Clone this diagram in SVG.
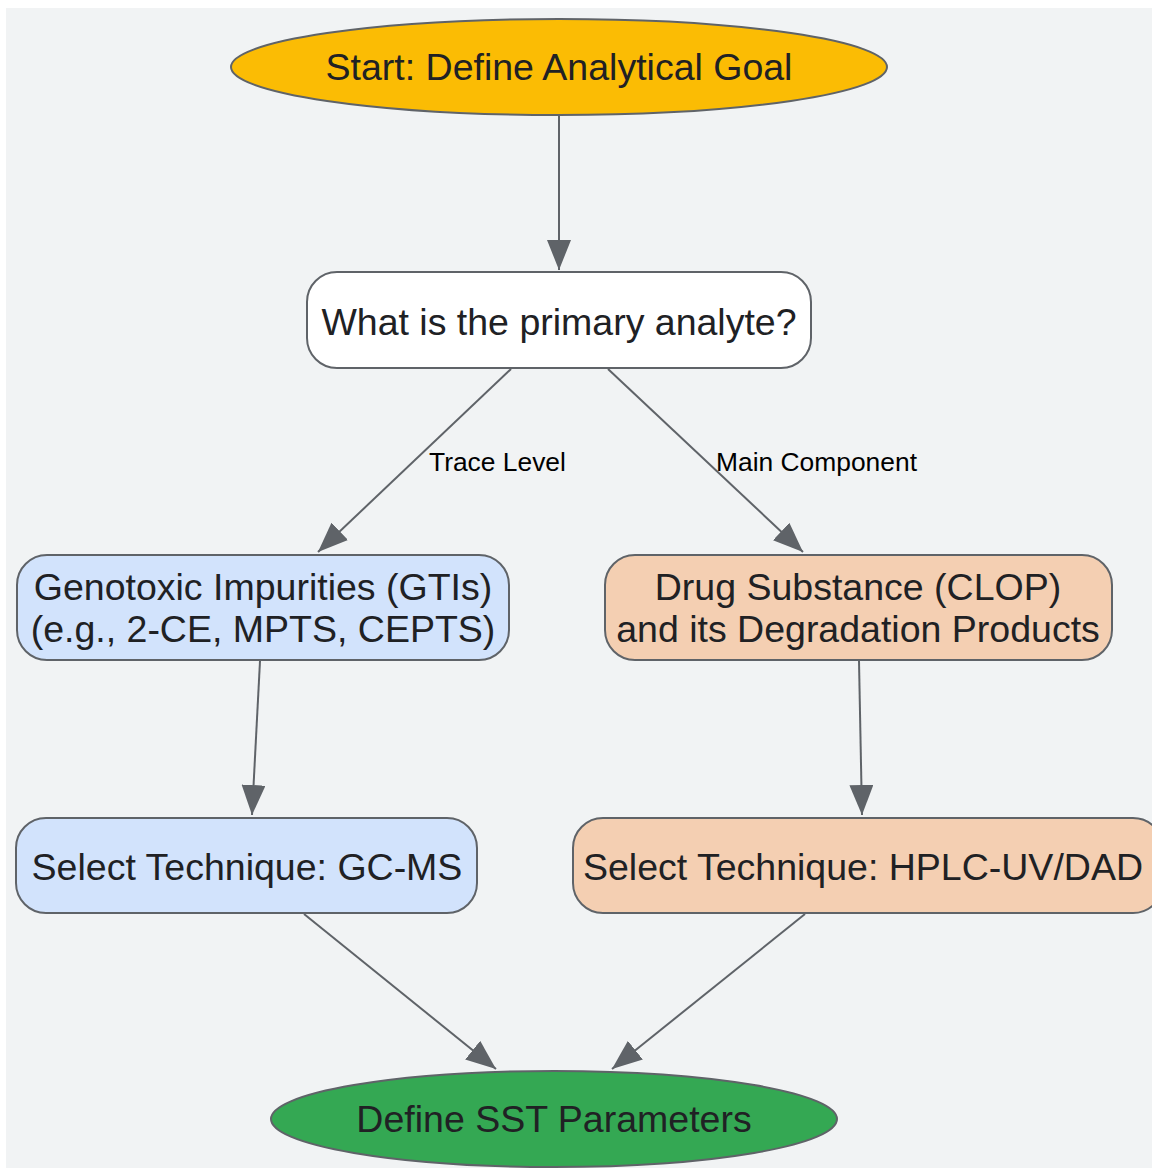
<svg xmlns="http://www.w3.org/2000/svg" width="1152" height="1170" viewBox="0 0 1152 1170">
<style>
.node{stroke:#5f6368;stroke-width:2}
.t{font-family:"Liberation Sans",Arial,sans-serif;font-size:37.5px;fill:#202124;text-anchor:middle}
.lbl{font-family:"Liberation Sans",Arial,sans-serif;font-size:26.4px;fill:#000}
.e{stroke:#5f6368;stroke-width:2;fill:none;marker-end:url(#arr)}
</style>
<defs>
<marker id="arr" markerUnits="userSpaceOnUse" markerWidth="30" markerHeight="24" refX="30" refY="12" orient="auto">
<path d="M0,0 L30,12 L0,24 z" fill="#5f6368"/>
</marker>
</defs>
<rect x="0" y="0" width="1152" height="1170" fill="#ffffff"/>
<rect x="6" y="8" width="1146" height="1160" fill="#f1f3f4"/>
<g id="edges">
<line class="e" x1="559" y1="115" x2="559" y2="270"/>
<line class="e" x1="511" y1="369" x2="318" y2="552"/>
<line class="e" x1="608" y1="369" x2="803" y2="552"/>
<line class="e" x1="260" y1="661" x2="252" y2="815"/>
<line class="e" x1="859" y1="661" x2="862" y2="815"/>
<line class="e" x1="304" y1="914" x2="496" y2="1069"/>
<line class="e" x1="805" y1="914" x2="612" y2="1069"/>
<text class="lbl" x="429" y="471">Trace Level</text>
<text class="lbl" x="716" y="471">Main Component</text>
</g>
<g id="start">
<ellipse class="node" cx="559" cy="67" rx="328" ry="48" fill="#fbbc04"/>
<text class="t" x="559" y="80">Start: Define Analytical Goal</text>
</g>
<g id="question">
<rect class="node" x="307" y="272" width="504" height="96" rx="30" fill="#ffffff"/>
<text class="t" x="559" y="335">What is the primary analyte?</text>
</g>
<g id="gti">
<rect class="node" x="17" y="555" width="492" height="105" rx="30" fill="#d2e3fc"/>
<text class="t" x="263" y="600">Genotoxic Impurities (GTIs)</text>
<text class="t" x="263" y="642">(e.g., 2-CE, MPTS, CEPTS)</text>
</g>
<g id="drug">
<rect class="node" x="605" y="555" width="507" height="105" rx="30" fill="#f4cfb2"/>
<text class="t" x="858" y="600">Drug Substance (CLOP)</text>
<text class="t" x="858" y="642">and its Degradation Products</text>
</g>
<g id="gcms">
<rect class="node" x="16" y="818" width="461" height="95" rx="30" fill="#d2e3fc"/>
<text class="t" x="247" y="880">Select Technique: GC-MS</text>
</g>
<g id="hplc">
<rect class="node" x="573" y="818" width="590" height="95" rx="30" fill="#f4cfb2"/>
<text class="t" x="863" y="880">Select Technique: HPLC-UV/DAD</text>
</g>
<g id="end">
<ellipse class="node" cx="554" cy="1119" rx="283" ry="48" fill="#34a853"/>
<text class="t" x="554" y="1132">Define SST Parameters</text>
</g>
</svg>
